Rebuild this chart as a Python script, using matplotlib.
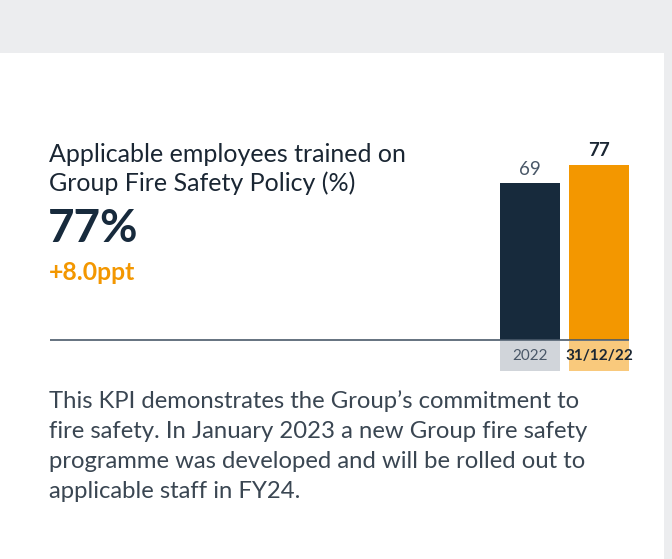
import matplotlib
matplotlib.use("Agg")
import matplotlib.pyplot as plt
from matplotlib.patches import Rectangle

# data
periods = ["2022", "31/12/22"]
values = [69, 77]
bar_colors = ["#172a3c", "#f39700"]
box_colors = ["#d1d5da", "#f9c97c"]
headline = "77%"
change = "+8.0ppt"
title_lines = ["Applicable employees trained on", "Group Fire Safety Policy (%)"]
body_lines = [
    "This KPI demonstrates the Group\u2019s commitment to",
    "fire safety. In January 2023 a new Group fire safety",
    "programme was developed and will be rolled out to",
    "applicable staff in FY24.",
]

W, H = 672, 559
plt.rcParams["font.family"] = ["Lato", "DejaVu Sans"]

fig = plt.figure(figsize=(W / 100, H / 100), dpi=100)
fig.patch.set_facecolor("#ecedef")


def fx(px):
    return px / W


def fy(py):
    return 1 - py / H


# white card
fig.patches.append(Rectangle((0, 0), fx(664), fy(53), transform=fig.transFigure,
                             facecolor="white", edgecolor="none", zorder=-5))

# bar axes
ax = fig.add_axes([fx(50), fy(372), fx(629) - fx(50), fy(113) - fy(372)])
ax.set_zorder(2)
ax.set_xlim(-6.957, 1.435)
ax.set_ylim(-14, 100)
ax.axis("off")

x = list(range(len(values)))
ax.bar(x, values, width=0.87, color=bar_colors, zorder=2)
ax.bar(x, [-13.2] * len(values), bottom=-0.4, width=0.87, color=box_colors, zorder=2)
ax.axhline(0, color="#4a5a6a", lw=1.2, zorder=3)

for i, (p, v) in enumerate(zip(periods, values)):
    last = i == len(values) - 1
    ax.text(i, v + 2.6, str(v), ha="center", va="bottom",
            fontsize=13.5, color="#1a2633" if last else "#4a5868",
            fontweight="bold" if last else "normal")
    ax.text(i, -7, p, ha="center", va="center", fontsize=11,
            color="#1a2633" if last else "#4a5868",
            fontweight="bold" if last else "normal")

# left text block
for j, line in enumerate(title_lines):
    fig.text(fx(49), fy(155 + j * 28), line, ha="left", va="center",
             fontsize=18, color="#1a2633")
fig.text(fx(48), fy(229), headline, ha="left", va="center",
         fontsize=33, fontweight="bold", color="#172a3c")
fig.text(fx(49), fy(273), change, ha="left", va="center",
         fontsize=17.8, fontweight="bold", color="#f39700")

for j, line in enumerate(body_lines):
    fig.text(fx(49), fy(401 + j * 30), line, ha="left", va="center",
             fontsize=17.2, color="#3a4652")

fig.savefig("out.png", dpi=100, facecolor=fig.get_facecolor())
